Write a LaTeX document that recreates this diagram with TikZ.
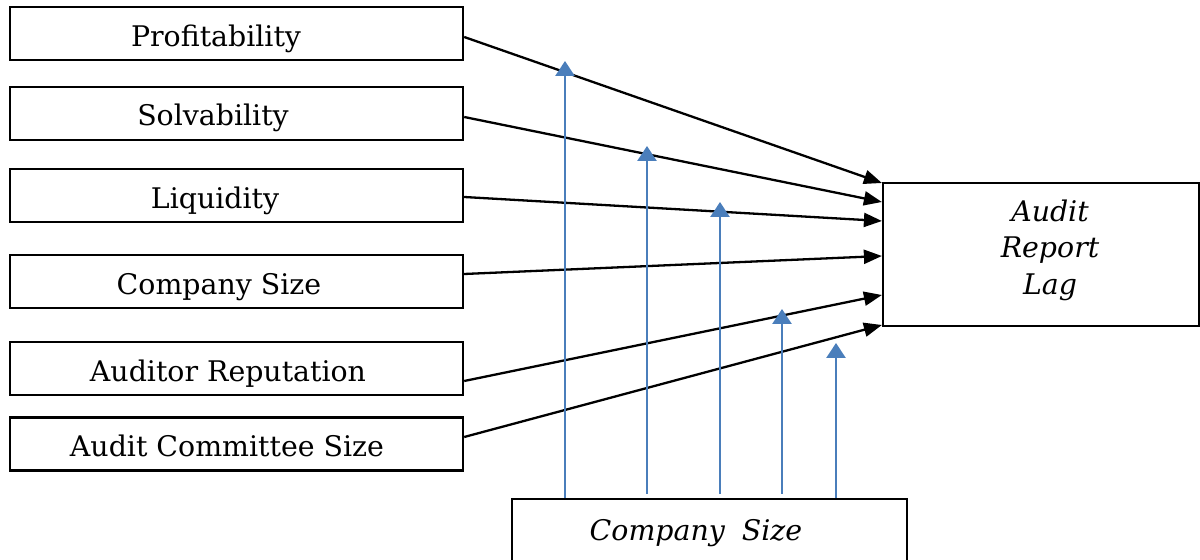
\documentclass[tikz,border=0pt]{standalone}
\usepackage{fontspec}
\setmainfont{DejaVu Serif}
\usetikzlibrary{arrows.meta}
\definecolor{modblue}{HTML}{4A7EBB}
\begin{document}
\begin{tikzpicture}[x=0.5pt,y=-0.5pt,
 box/.style={draw=black, line width=1.2pt, minimum width=226.5pt, minimum height=26.5pt, inner sep=0pt},
 bigbox/.style={draw=black, line width=1.1pt, inner sep=0pt},
 lbl/.style={anchor=base, font=\fontsize{14.2}{17}\selectfont, inner sep=0pt},
 ilbl/.style={anchor=base, font=\fontsize{14.2}{17}\selectfont\itshape, inner sep=0pt},
 link/.style={draw=black, line width=1.15pt, -{Triangle[length=9pt,width=7pt]}},
 mod/.style={draw=modblue, line width=1.3pt, -{Triangle[length=7.5pt,width=9.5pt]}},
]
\useasboundingbox (0,0) rectangle (1200,560);
\clip (0,0) rectangle (1200,560);

% left boxes
\node[box] (b1) at (236.5,33.5) {};
\node[box] (b2) at (236.5,113.5) {};
\node[box] (b3) at (236.5,195.5) {};
\node[box] (b4) at (236.5,281.5) {};
\node[box] (b5) at (236.5,368.5) {};
\node[box] (b6) at (236.5,444) {};

\node[lbl] (t1) at (216,47) {Profitability};
\node[lbl] (t2) at (213,126) {Solvability};
\node[lbl] (t3) at (215,209) {Liquidity};
\node[lbl] (t4) at (219,295) {Company Size};
\node[lbl] (t5) at (228,382) {Auditor Reputation};
\node[lbl] (t6) at (227,457) {Audit Committee Size};

% dependent
\node[bigbox, minimum width=158pt, minimum height=71.5pt] (arl) at (1041,254.5) {};
\node[ilbl] (a1) at (1050,222) {Audit};
\node[ilbl] (a2) at (1050,258) {Report};
\node[ilbl] (a3) at (1050,295) {Lag};

% moderator
\node[bigbox, minimum width=197.5pt, minimum height=50.5pt] (cs) at (709.5,549.5) {};
\node[ilbl] (ct) at (696,541) {Company\hspace{0.6em}Size};

% black arrows
\draw[link] (b1.east |- 0,37) -- (arl.west |- 0,183);
\draw[link] (b2.east |- 0,117) -- (arl.west |- 0,202);
\draw[link] (b3.east |- 0,197) -- (arl.west |- 0,221);
\draw[link] (b4.east |- 0,274) -- (arl.west |- 0,256);
\draw[link] (b5.east |- 0,381) -- (arl.west |- 0,295);
\draw[link] (b6.east |- 0,437) -- (arl.west |- 0,325);

% blue moderation arrows
\coordinate (m1) at (565,61);
\coordinate (m2) at (647,146);
\coordinate (m3) at (720,202);
\coordinate (m4) at (782,309);
\coordinate (m5) at (836,343);
\draw[mod] (cs.north -| m1) -- (m1);
\draw[mod] (m2 |- 0,494) -- (m2);
\draw[mod] (m3 |- 0,494) -- (m3);
\draw[mod] (m4 |- 0,494) -- (m4);
\draw[mod] (cs.north -| m5) -- (m5);
\end{tikzpicture}
\end{document}
